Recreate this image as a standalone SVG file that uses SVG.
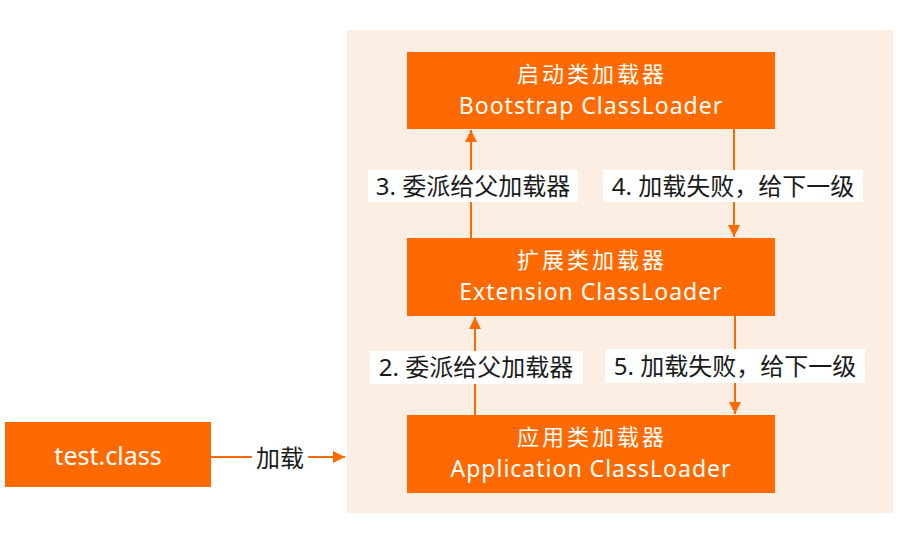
<svg xmlns="http://www.w3.org/2000/svg" width="918" height="556" viewBox="0 0 918 556">
<style>
.box{fill:#FF6A00;}
.bt{fill:#FFFFFF;font-family:"Noto Sans","Noto Sans CJK SC",sans-serif;font-size:23px;text-anchor:middle;letter-spacing:1px;}
.cn{fill:#FFFFFF;font-family:"Noto Sans","Noto Sans CJK SC",sans-serif;font-size:22px;text-anchor:middle;letter-spacing:3px;}
.lbl{fill:#1A1A1A;font-family:"Noto Sans","Noto Sans CJK SC",sans-serif;font-size:24px;text-anchor:middle;}
.lbg{fill:#FFFFFF;}
.ln{stroke:#FF6A00;stroke-width:2;fill:none;}
</style>
<defs>
<marker id="ah" viewBox="0 0 10 10" refX="10" refY="5" markerWidth="6" markerHeight="6" markerUnits="strokeWidth" orient="auto">
<path d="M0,0 L10,5 L0,10 z" fill="#FF6A00"/>
</marker>
</defs>
<rect width="918" height="556" fill="#FFFFFF"/>
<rect id="panel" x="347" y="30" width="546" height="483" fill="#FDEEE4"/>
<g id="connectors">
<line class="ln" x1="471" y1="238" x2="471" y2="130" marker-end="url(#ah)"/>
<line class="ln" x1="734" y1="129" x2="734" y2="237" marker-end="url(#ah)"/>
<line class="ln" x1="475" y1="415" x2="475" y2="317" marker-end="url(#ah)"/>
<line class="ln" x1="735" y1="316" x2="735" y2="414" marker-end="url(#ah)"/>
<line class="ln" x1="211" y1="457" x2="345" y2="457" marker-end="url(#ah)"/>
<rect class="lbg" x="368" y="170" width="210" height="32"/>
<text class="lbl" x="473" y="195">3. 委派给父加载器</text>
<rect class="lbg" x="603" y="170" width="260" height="32"/>
<text class="lbl" x="733" y="195">4. 加载失败，给下一级</text>
<rect class="lbg" x="370" y="351" width="213" height="33"/>
<text class="lbl" x="476" y="376">2. 委派给父加载器</text>
<rect class="lbg" x="605" y="349" width="260" height="34"/>
<text class="lbl" x="735" y="375">5. 加载失败，给下一级</text>
<rect class="lbg" x="252" y="443" width="56" height="30"/>
<text class="lbl" x="280" y="467">加载</text>
</g>
<g id="bootstrap">
<rect class="box" x="407" y="52" width="368" height="77"/>
<text class="cn" x="592" y="82">启动类加载器</text>
<text class="bt" x="591" y="114">Bootstrap ClassLoader</text>
</g>
<g id="extension">
<rect class="box" x="407" y="238" width="368" height="78"/>
<text class="cn" x="592" y="268">扩展类加载器</text>
<text class="bt" x="591" y="300">Extension ClassLoader</text>
</g>
<g id="application">
<rect class="box" x="407" y="415" width="368" height="78"/>
<text class="cn" x="592" y="445">应用类加载器</text>
<text class="bt" x="591" y="477">Application ClassLoader</text>
</g>
<g id="testclass">
<rect class="box" x="5" y="422" width="206" height="65"/>
<text class="bt" x="108" y="465" style="letter-spacing:0;font-size:25px">test.class</text>
</g>
</svg>
